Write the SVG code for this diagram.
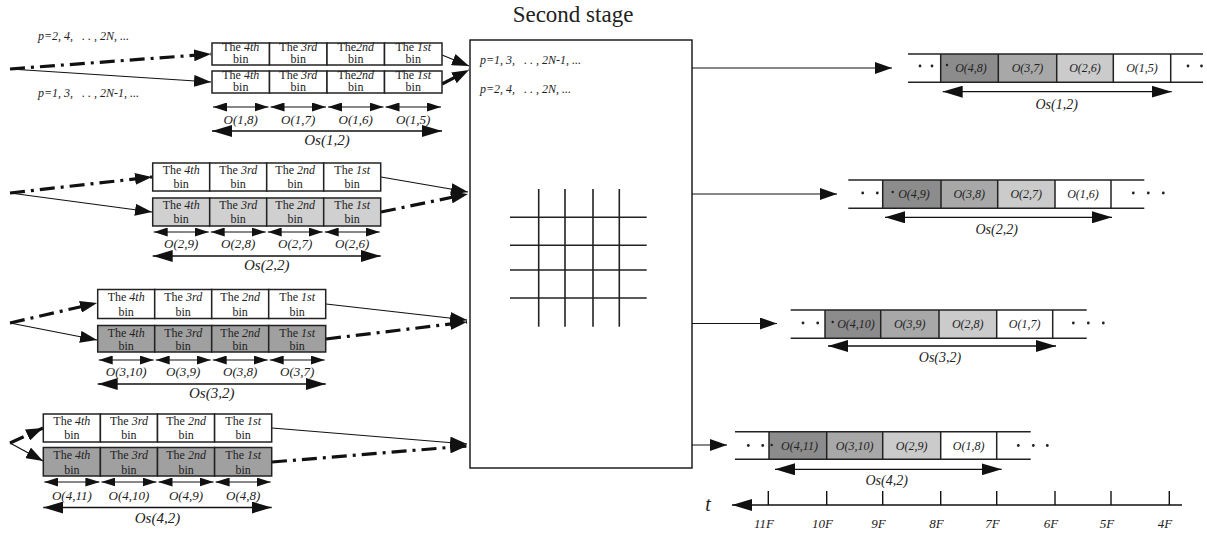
<svg xmlns="http://www.w3.org/2000/svg" width="1207" height="533" viewBox="0 0 1207 533">
<style>
.cell{fill:#fff;stroke:#222;stroke-width:1.5}
.lg{fill:#d0d0d0}
.dg{fill:#a0a0a0}
.bt{font-family:"Liberation Serif",serif;font-size:12px;text-anchor:middle;fill:#222}
.lab{font-family:"Liberation Serif",serif;font-style:italic;font-size:13px;text-anchor:middle;fill:#222}
.os{font-family:"Liberation Serif",serif;font-style:italic;font-size:15px;text-anchor:middle;fill:#222}
.osr{font-family:"Liberation Serif",serif;font-style:italic;font-size:14px;text-anchor:middle;fill:#222}
.pl{font-family:"Liberation Serif",serif;font-style:italic;font-size:12px;fill:#222;white-space:pre}
.ol{font-family:"Liberation Serif",serif;font-style:italic;font-size:12px;text-anchor:middle;fill:#222}
.ax{font-family:"Liberation Serif",serif;font-style:italic;font-size:13px;text-anchor:middle;fill:#222}
.con{stroke:#111;stroke-width:1.2;fill:none;marker-end:url(#ah)}
.cdd{stroke:#111;stroke-width:3.2;stroke-dasharray:15 6 3 6;fill:none;marker-end:url(#ah)}
.sa{stroke:#111;stroke-width:1.1;fill:none;marker-start:url(#ss);marker-end:url(#se)}
.ba{stroke:#111;stroke-width:1.3;fill:none;marker-start:url(#bs);marker-end:url(#be)}
.st{stroke:#222;stroke-width:1.5;fill:none}
.grid{stroke:#222;stroke-width:1.6}
.dot{fill:#222}
</style>
<defs>
<marker id="ah" markerUnits="userSpaceOnUse" markerWidth="18" markerHeight="12" refX="17" refY="6" orient="auto"><path d="M0,0L17,6L0,12z" fill="#111"/></marker>
<marker id="se" markerUnits="userSpaceOnUse" markerWidth="14" markerHeight="9" refX="14" refY="4.5" orient="auto"><path d="M0,0L14,4.5L0,9z" fill="#111"/></marker>
<marker id="ss" markerUnits="userSpaceOnUse" markerWidth="14" markerHeight="9" refX="0" refY="4.5" orient="auto"><path d="M14,0L0,4.5L14,9z" fill="#111"/></marker>
<marker id="be" markerUnits="userSpaceOnUse" markerWidth="20" markerHeight="12" refX="20" refY="6" orient="auto"><path d="M0,0L20,6L0,12z" fill="#111"/></marker>
<marker id="bs" markerUnits="userSpaceOnUse" markerWidth="20" markerHeight="12" refX="0" refY="6" orient="auto"><path d="M20,0L0,6L20,12z" fill="#111"/></marker>
</defs>

<g id="connectors">
<line class="cdd" x1="10" y1="69" x2="211" y2="54"/>
<line class="con" x1="10" y1="69" x2="211" y2="82"/>
<line class="con" x1="442" y1="55" x2="469" y2="66"/>
<line class="cdd" x1="442" y1="84" x2="469" y2="70"/>
<line class="cdd" x1="10" y1="193" x2="152" y2="177"/>
<line class="con" x1="10" y1="193" x2="152" y2="212"/>
<line class="con" x1="381" y1="177" x2="468" y2="192"/>
<line class="cdd" x1="381" y1="212" x2="468" y2="194"/>
<line class="cdd" x1="10" y1="323" x2="97" y2="303"/>
<line class="con" x1="10" y1="323" x2="97" y2="340"/>
<line class="con" x1="326" y1="304" x2="467" y2="320"/>
<line class="cdd" x1="326" y1="339" x2="467" y2="322"/>
<line class="cdd" x1="10" y1="443" x2="43" y2="428"/>
<line class="con" x1="10" y1="443" x2="43" y2="461"/>
<line class="con" x1="272" y1="428" x2="467" y2="444"/>
<line class="cdd" x1="272" y1="462" x2="467" y2="446"/>
<line class="con" x1="692" y1="68" x2="892" y2="68"/>
<line class="con" x1="692" y1="194" x2="837" y2="194"/>
<line class="con" x1="692" y1="323.5" x2="777" y2="323.5"/>
<line class="con" x1="692" y1="445" x2="727" y2="445"/>
</g>

<g id="labels-left">
<text class="pl" x="38" y="40">p=2, 4,   . . , 2N, ...</text>
<text class="pl" x="38" y="97">p=1, 3,   . . , 2N-1, ...</text>
</g>

<g id="group1">
<rect class="cell" x="212" y="43" width="57.5" height="22"/>
<rect class="cell" x="269.5" y="43" width="57.5" height="22"/>
<rect class="cell" x="327" y="43" width="57.5" height="22"/>
<rect class="cell" x="384.5" y="43" width="57.5" height="22"/>
<rect class="cell" x="212" y="71" width="57.5" height="22"/>
<rect class="cell" x="269.5" y="71" width="57.5" height="22"/>
<rect class="cell" x="327" y="71" width="57.5" height="22"/>
<rect class="cell" x="384.5" y="71" width="57.5" height="22"/>
<text class="bt" x="240.75" y="50.5">The <tspan font-style="italic">4th</tspan></text>
<text class="bt" x="298.25" y="50.5">The <tspan font-style="italic">3rd</tspan></text>
<text class="bt" x="355.75" y="50.5">The<tspan font-style="italic">2nd</tspan></text>
<text class="bt" x="413.25" y="50.5">The <tspan font-style="italic">1st</tspan></text>
<text class="bt" x="240.75" y="63">bin</text>
<text class="bt" x="298.25" y="63">bin</text>
<text class="bt" x="355.75" y="63">bin</text>
<text class="bt" x="413.25" y="63">bin</text>
<text class="bt" x="240.75" y="78.5">The <tspan font-style="italic">4th</tspan></text>
<text class="bt" x="298.25" y="78.5">The <tspan font-style="italic">3rd</tspan></text>
<text class="bt" x="355.75" y="78.5">The<tspan font-style="italic">2nd</tspan></text>
<text class="bt" x="413.25" y="78.5">The <tspan font-style="italic">1st</tspan></text>
<text class="bt" x="240.75" y="91">bin</text>
<text class="bt" x="298.25" y="91">bin</text>
<text class="bt" x="355.75" y="91">bin</text>
<text class="bt" x="413.25" y="91">bin</text>
<line class="sa" x1="213" y1="107" x2="268.5" y2="107"/>
<line class="sa" x1="270.5" y1="107" x2="326" y2="107"/>
<line class="sa" x1="328" y1="107" x2="383.5" y2="107"/>
<line class="sa" x1="385.5" y1="107" x2="441" y2="107"/>
<text class="lab" x="240.75" y="124">O(1,8)</text>
<text class="lab" x="298.25" y="124">O(1,7)</text>
<text class="lab" x="355.75" y="124">O(1,6)</text>
<text class="lab" x="413.25" y="124">O(1,5)</text>
<line class="ba" x1="212" y1="131" x2="442" y2="131"/>
<text class="os" x="327" y="145">Os(1,2)</text>
</g>

<g id="group2">
<rect class="cell" x="152.7" y="163" width="57" height="28"/>
<rect class="cell" x="209.7" y="163" width="57" height="28"/>
<rect class="cell" x="266.7" y="163" width="57" height="28"/>
<rect class="cell" x="323.7" y="163" width="57" height="28"/>
<rect class="cell lg" x="152.7" y="198" width="57" height="28"/>
<rect class="cell lg" x="209.7" y="198" width="57" height="28"/>
<rect class="cell lg" x="266.7" y="198" width="57" height="28"/>
<rect class="cell lg" x="323.7" y="198" width="57" height="28"/>
<text class="bt" x="181.2" y="173.5">The <tspan font-style="italic">4th</tspan></text>
<text class="bt" x="238.2" y="173.5">The <tspan font-style="italic">3rd</tspan></text>
<text class="bt" x="295.2" y="173.5">The <tspan font-style="italic">2nd</tspan></text>
<text class="bt" x="352.2" y="173.5">The <tspan font-style="italic">1st</tspan></text>
<text class="bt" x="181.2" y="188">bin</text>
<text class="bt" x="238.2" y="188">bin</text>
<text class="bt" x="295.2" y="188">bin</text>
<text class="bt" x="352.2" y="188">bin</text>
<text class="bt" x="181.2" y="208.5">The <tspan font-style="italic">4th</tspan></text>
<text class="bt" x="238.2" y="208.5">The <tspan font-style="italic">3rd</tspan></text>
<text class="bt" x="295.2" y="208.5">The <tspan font-style="italic">2nd</tspan></text>
<text class="bt" x="352.2" y="208.5">The <tspan font-style="italic">1st</tspan></text>
<text class="bt" x="181.2" y="223">bin</text>
<text class="bt" x="238.2" y="223">bin</text>
<text class="bt" x="295.2" y="223">bin</text>
<text class="bt" x="352.2" y="223">bin</text>
<line class="sa" x1="153.7" y1="232" x2="208.7" y2="232"/>
<line class="sa" x1="210.7" y1="232" x2="265.7" y2="232"/>
<line class="sa" x1="267.7" y1="232" x2="322.7" y2="232"/>
<line class="sa" x1="324.7" y1="232" x2="379.7" y2="232"/>
<text class="lab" x="181.2" y="248">O(2,9)</text>
<text class="lab" x="238.2" y="248">O(2,8)</text>
<text class="lab" x="295.2" y="248">O(2,7)</text>
<text class="lab" x="352.2" y="248">O(2,6)</text>
<line class="ba" x1="152.7" y1="256" x2="380.7" y2="256"/>
<text class="os" x="266.7" y="270">Os(2,2)</text>
</g>

<g id="group3">
<rect class="cell" x="97.7" y="289.5" width="57" height="29"/>
<rect class="cell" x="154.7" y="289.5" width="57" height="29"/>
<rect class="cell" x="211.7" y="289.5" width="57" height="29"/>
<rect class="cell" x="268.7" y="289.5" width="57" height="29"/>
<rect class="cell dg" x="97.7" y="325.5" width="57" height="26.5"/>
<rect class="cell dg" x="154.7" y="325.5" width="57" height="26.5"/>
<rect class="cell dg" x="211.7" y="325.5" width="57" height="26.5"/>
<rect class="cell dg" x="268.7" y="325.5" width="57" height="26.5"/>
<text class="bt" x="126.2" y="301">The <tspan font-style="italic">4th</tspan></text>
<text class="bt" x="183.2" y="301">The <tspan font-style="italic">3rd</tspan></text>
<text class="bt" x="240.2" y="301">The <tspan font-style="italic">2nd</tspan></text>
<text class="bt" x="297.2" y="301">The <tspan font-style="italic">1st</tspan></text>
<text class="bt" x="126.2" y="315.5">bin</text>
<text class="bt" x="183.2" y="315.5">bin</text>
<text class="bt" x="240.2" y="315.5">bin</text>
<text class="bt" x="297.2" y="315.5">bin</text>
<text class="bt" x="126.2" y="337">The <tspan font-style="italic">4th</tspan></text>
<text class="bt" x="183.2" y="337">The <tspan font-style="italic">3rd</tspan></text>
<text class="bt" x="240.2" y="337">The <tspan font-style="italic">2nd</tspan></text>
<text class="bt" x="297.2" y="337">The <tspan font-style="italic">1st</tspan></text>
<text class="bt" x="126.2" y="350">bin</text>
<text class="bt" x="183.2" y="350">bin</text>
<text class="bt" x="240.2" y="350">bin</text>
<text class="bt" x="297.2" y="350">bin</text>
<line class="sa" x1="98.7" y1="360" x2="153.7" y2="360"/>
<line class="sa" x1="155.7" y1="360" x2="210.7" y2="360"/>
<line class="sa" x1="212.7" y1="360" x2="267.7" y2="360"/>
<line class="sa" x1="269.7" y1="360" x2="324.7" y2="360"/>
<text class="lab" x="126.2" y="376">O(3,10)</text>
<text class="lab" x="183.2" y="376">O(3,9)</text>
<text class="lab" x="240.2" y="376">O(3,8)</text>
<text class="lab" x="297.2" y="376">O(3,7)</text>
<line class="ba" x1="97.7" y1="384" x2="325.7" y2="384"/>
<text class="os" x="211.7" y="398">Os(3,2)</text>
</g>

<g id="group4">
<rect class="cell" x="43.3" y="414" width="57.1" height="28"/>
<rect class="cell" x="100.4" y="414" width="57.1" height="28"/>
<rect class="cell" x="157.5" y="414" width="57.1" height="28"/>
<rect class="cell" x="214.6" y="414" width="57.1" height="28"/>
<rect class="cell dg" x="43.3" y="447.5" width="57.1" height="28.5"/>
<rect class="cell dg" x="100.4" y="447.5" width="57.1" height="28.5"/>
<rect class="cell dg" x="157.5" y="447.5" width="57.1" height="28.5"/>
<rect class="cell dg" x="214.6" y="447.5" width="57.1" height="28.5"/>
<text class="bt" x="71.85" y="424.5">The <tspan font-style="italic">4th</tspan></text>
<text class="bt" x="128.95" y="424.5">The <tspan font-style="italic">3rd</tspan></text>
<text class="bt" x="186.05" y="424.5">The <tspan font-style="italic">2nd</tspan></text>
<text class="bt" x="243.15" y="424.5">The <tspan font-style="italic">1st</tspan></text>
<text class="bt" x="71.85" y="439">bin</text>
<text class="bt" x="128.95" y="439">bin</text>
<text class="bt" x="186.05" y="439">bin</text>
<text class="bt" x="243.15" y="439">bin</text>
<text class="bt" x="71.85" y="459">The <tspan font-style="italic">4th</tspan></text>
<text class="bt" x="128.95" y="459">The <tspan font-style="italic">3rd</tspan></text>
<text class="bt" x="186.05" y="459">The <tspan font-style="italic">2nd</tspan></text>
<text class="bt" x="243.15" y="459">The <tspan font-style="italic">1st</tspan></text>
<text class="bt" x="71.85" y="474">bin</text>
<text class="bt" x="128.95" y="474">bin</text>
<text class="bt" x="186.05" y="474">bin</text>
<text class="bt" x="243.15" y="474">bin</text>
<line class="sa" x1="44.3" y1="482" x2="99.4" y2="482"/>
<line class="sa" x1="101.4" y1="482" x2="156.5" y2="482"/>
<line class="sa" x1="158.5" y1="482" x2="213.6" y2="482"/>
<line class="sa" x1="215.6" y1="482" x2="270.7" y2="482"/>
<text class="lab" x="71.85" y="500">O(4,11)</text>
<text class="lab" x="128.95" y="500">O(4,10)</text>
<text class="lab" x="186.05" y="500">O(4,9)</text>
<text class="lab" x="243.15" y="500">O(4,8)</text>
<line class="ba" x1="43.3" y1="507.5" x2="271.7" y2="507.5"/>
<text class="os" x="157.5" y="523">Os(4,2)</text>
</g>

<g id="second-stage">
<text x="573" y="22" font-family="Liberation Serif, serif" font-size="23" text-anchor="middle" fill="#222">Second stage</text>
<rect x="470" y="40" width="222" height="428" fill="#fff" stroke="#111" stroke-width="1.4"/>
<text class="pl" x="480" y="64">p=1, 3,   . . , 2N-1, ...</text>
<text class="pl" x="480" y="93">p=2, 4,   . . , 2N, ...</text>
<g class="grid">
<line x1="510" y1="217.3" x2="646.7" y2="217.3"/>
<line x1="510" y1="245.3" x2="646.7" y2="245.3"/>
<line x1="510" y1="270" x2="646.7" y2="270"/>
<line x1="510" y1="298" x2="646.7" y2="298"/>
<line x1="538.7" y1="189" x2="538.7" y2="326.7"/>
<line x1="565" y1="189" x2="565" y2="326.7"/>
<line x1="593" y1="189" x2="593" y2="326.7"/>
<line x1="619.3" y1="189" x2="619.3" y2="326.7"/>
</g>
</g>

<g id="out1">
<rect x="940.7" y="54" width="57.6" height="28.3" fill="#8c8c8c"/>
<rect x="998.3" y="54" width="58.4" height="28.3" fill="#a8a8a8"/>
<rect x="1056.7" y="54" width="56.6" height="28.3" fill="#cbcbcb"/>
<line class="st" x1="908" y1="54" x2="1203" y2="54"/>
<line class="st" x1="908" y1="82.3" x2="1203" y2="82.3"/>
<line class="st" x1="940.7" y1="54" x2="940.7" y2="82.3"/>
<line class="st" x1="998.3" y1="54" x2="998.3" y2="82.3"/>
<line class="st" x1="1056.7" y1="54" x2="1056.7" y2="82.3"/>
<line class="st" x1="1113.3" y1="54" x2="1113.3" y2="82.3"/>
<line class="st" x1="1170.7" y1="54" x2="1170.7" y2="82.3"/>
<circle class="dot" cx="920" cy="66" r="1.4"/>
<circle class="dot" cx="932" cy="66" r="1.4"/>
<circle class="dot" cx="947" cy="65" r="1.2"/>
<circle class="dot" cx="1188" cy="66" r="1.4"/>
<circle class="dot" cx="1201.5" cy="66" r="1.4"/>
<text class="ol" x="971" y="72">O(4,8)</text>
<text class="ol" x="1027.5" y="72">O(3,7)</text>
<text class="ol" x="1085" y="72">O(2,6)</text>
<text class="ol" x="1142" y="72">O(1,5)</text>
<line class="ba" x1="942.7" y1="91.7" x2="1171.7" y2="91.7"/>
<text class="osr" x="1056.7" y="109">Os(1,2)</text>
</g>

<g id="out2">
<rect x="882.7" y="180" width="58.3" height="28.3" fill="#8c8c8c"/>
<rect x="941" y="180" width="56.7" height="28.3" fill="#a8a8a8"/>
<rect x="997.7" y="180" width="57.3" height="28.3" fill="#cbcbcb"/>
<line class="st" x1="848.3" y1="180" x2="1144.3" y2="180"/>
<line class="st" x1="848.3" y1="208.3" x2="1144.3" y2="208.3"/>
<line class="st" x1="882.7" y1="180" x2="882.7" y2="208.3"/>
<line class="st" x1="941" y1="180" x2="941" y2="208.3"/>
<line class="st" x1="997.7" y1="180" x2="997.7" y2="208.3"/>
<line class="st" x1="1055" y1="180" x2="1055" y2="208.3"/>
<line class="st" x1="1111" y1="180" x2="1111" y2="208.3"/>
<circle class="dot" cx="862.7" cy="193" r="1.4"/>
<circle class="dot" cx="877.3" cy="193" r="1.4"/>
<circle class="dot" cx="892.7" cy="192" r="1.2"/>
<circle class="dot" cx="1133.3" cy="193" r="1.4"/>
<circle class="dot" cx="1148.3" cy="193" r="1.4"/>
<circle class="dot" cx="1163.3" cy="193" r="1.4"/>
<text class="ol" x="914" y="198">O(4,9)</text>
<text class="ol" x="969.3" y="198">O(3,8)</text>
<text class="ol" x="1026.3" y="198">O(2,7)</text>
<text class="ol" x="1083" y="198">O(1,6)</text>
<line class="ba" x1="885" y1="217.3" x2="1112" y2="217.3"/>
<text class="osr" x="996.7" y="234">Os(2,2)</text>
</g>

<g id="out3">
<rect x="825" y="310" width="55.7" height="28.3" fill="#8c8c8c"/>
<rect x="880.7" y="310" width="58.3" height="28.3" fill="#a8a8a8"/>
<rect x="939" y="310" width="57.7" height="28.3" fill="#cbcbcb"/>
<line class="st" x1="790.7" y1="310" x2="1086.7" y2="310"/>
<line class="st" x1="790.7" y1="338.3" x2="1086.7" y2="338.3"/>
<line class="st" x1="825" y1="310" x2="825" y2="338.3"/>
<line class="st" x1="880.7" y1="310" x2="880.7" y2="338.3"/>
<line class="st" x1="939" y1="310" x2="939" y2="338.3"/>
<line class="st" x1="996.7" y1="310" x2="996.7" y2="338.3"/>
<line class="st" x1="1052.7" y1="310" x2="1052.7" y2="338.3"/>
<circle class="dot" cx="803" cy="323" r="1.4"/>
<circle class="dot" cx="817.7" cy="323" r="1.4"/>
<circle class="dot" cx="832.7" cy="322" r="1.2"/>
<circle class="dot" cx="1073.3" cy="323" r="1.4"/>
<circle class="dot" cx="1088.3" cy="323" r="1.4"/>
<circle class="dot" cx="1103.3" cy="323" r="1.4"/>
<text class="ol" x="856" y="328">O(4,10)</text>
<text class="ol" x="909.8" y="328">O(3,9)</text>
<text class="ol" x="967.8" y="328">O(2,8)</text>
<text class="ol" x="1024.7" y="328">O(1,7)</text>
<line class="ba" x1="828" y1="346" x2="1056" y2="346"/>
<text class="osr" x="940" y="362">Os(3,2)</text>
</g>

<g id="out4">
<rect x="769" y="431.7" width="57.7" height="27.6" fill="#8c8c8c"/>
<rect x="826.7" y="431.7" width="56" height="27.6" fill="#a8a8a8"/>
<rect x="882.7" y="431.7" width="58" height="27.6" fill="#cbcbcb"/>
<line class="st" x1="735" y1="431.7" x2="1030.7" y2="431.7"/>
<line class="st" x1="735" y1="459.3" x2="1030.7" y2="459.3"/>
<line class="st" x1="769" y1="431.7" x2="769" y2="459.3"/>
<line class="st" x1="826.7" y1="431.7" x2="826.7" y2="459.3"/>
<line class="st" x1="882.7" y1="431.7" x2="882.7" y2="459.3"/>
<line class="st" x1="940.7" y1="431.7" x2="940.7" y2="459.3"/>
<line class="st" x1="996.7" y1="431.7" x2="996.7" y2="459.3"/>
<circle class="dot" cx="748.3" cy="445.5" r="1.4"/>
<circle class="dot" cx="762.7" cy="445.5" r="1.4"/>
<circle class="dot" cx="771.7" cy="445" r="1.2"/>
<circle class="dot" cx="1018.3" cy="445.5" r="1.4"/>
<circle class="dot" cx="1033.3" cy="445.5" r="1.4"/>
<circle class="dot" cx="1047.3" cy="445.5" r="1.4"/>
<text class="ol" x="799.5" y="449.5">O(4,11)</text>
<text class="ol" x="854.7" y="449.5">O(3,10)</text>
<text class="ol" x="911.7" y="449.5">O(2,9)</text>
<text class="ol" x="968.7" y="449.5">O(1,8)</text>
<line class="ba" x1="775" y1="469.3" x2="1001.7" y2="469.3"/>
<text class="osr" x="886.7" y="485">Os(4,2)</text>
</g>

<g id="time-axis">
<line x1="732" y1="505" x2="1182" y2="505" stroke="#111" stroke-width="1.4" marker-start="url(#bs)"/>
<g stroke="#111" stroke-width="1.4">
<line x1="768.3" y1="491" x2="768.3" y2="505"/>
<line x1="826.7" y1="491" x2="826.7" y2="505"/>
<line x1="882.7" y1="491" x2="882.7" y2="505"/>
<line x1="940.7" y1="491" x2="940.7" y2="505"/>
<line x1="996.7" y1="491" x2="996.7" y2="505"/>
<line x1="1055" y1="491" x2="1055" y2="505"/>
<line x1="1111" y1="491" x2="1111" y2="505"/>
<line x1="1169.3" y1="491" x2="1169.3" y2="505"/>
</g>
<text x="708" y="511" font-family="Liberation Serif, serif" font-style="italic" font-size="20" text-anchor="middle" fill="#222">t</text>
<text class="ax" x="764" y="528">11F</text>
<text class="ax" x="822.5" y="528">10F</text>
<text class="ax" x="878.5" y="528">9F</text>
<text class="ax" x="936.5" y="528">8F</text>
<text class="ax" x="992.5" y="528">7F</text>
<text class="ax" x="1051" y="528">6F</text>
<text class="ax" x="1107" y="528">5F</text>
<text class="ax" x="1165" y="528">4F</text>
</g>
</svg>
